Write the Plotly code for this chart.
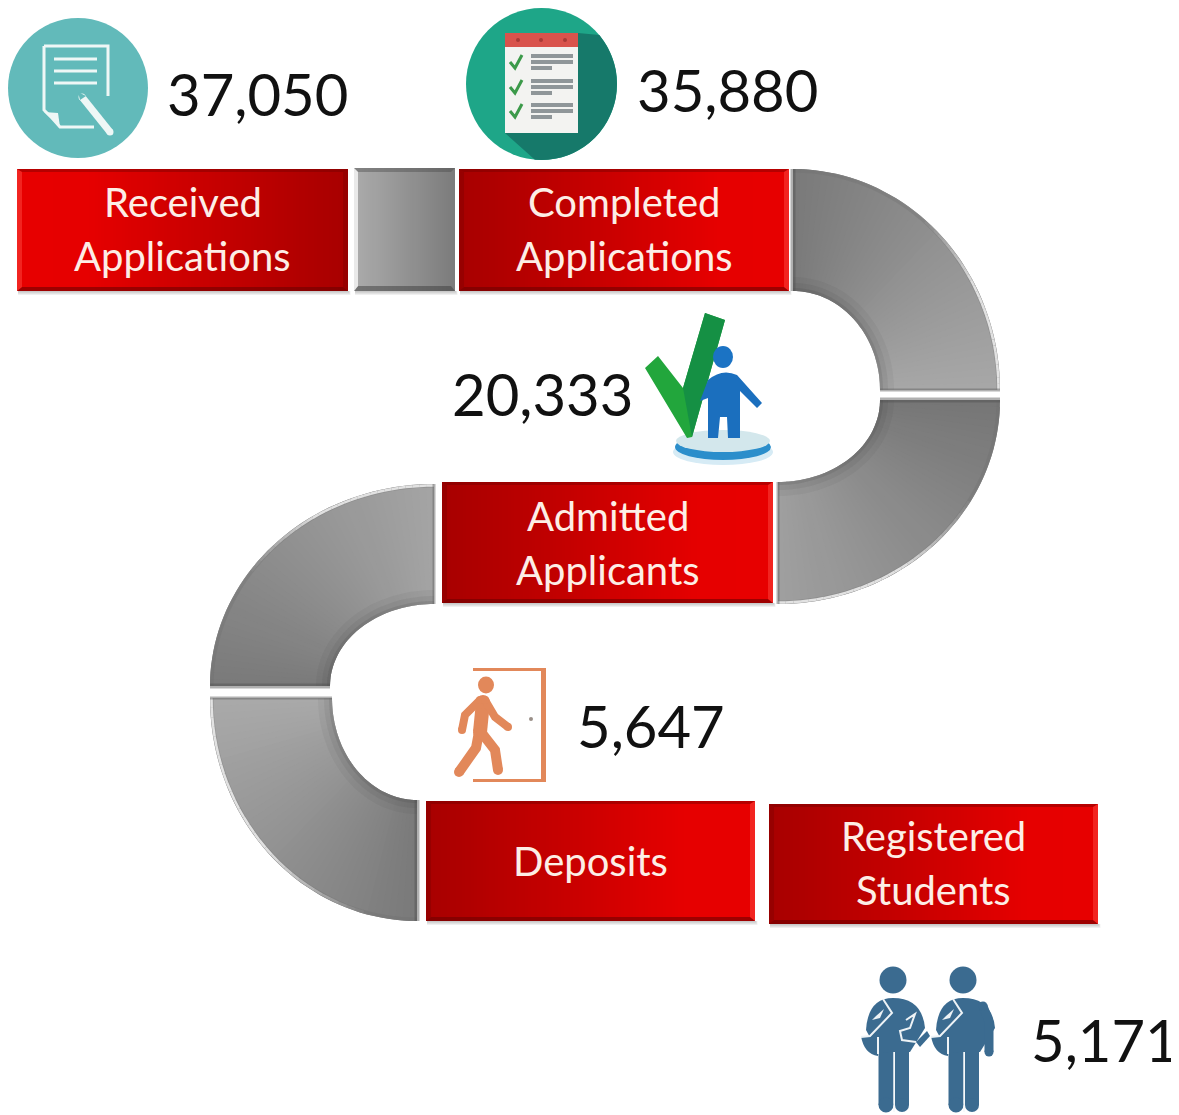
"""
Admissions funnel infographic, drawn with Plotly shapes on a pixel-sized axis.
"""

from __future__ import annotations

import math

import plotly.graph_objects as go

# data
STAGES = ["Received<br>Applications", "Completed<br>Applications", "Admitted<br>Applicants",
          "Deposits", "Registered<br>Students"]
COUNTS = ["37,050", "35,880", "20,333", "5,647", "5,171"]

# layout, in reference pixels
BAR_BOXES = [(17, 169, 348, 291), (459, 169, 789, 291), (442, 482, 773, 603),
             (426, 801, 755, 921), (769, 804, 1098, 924)]
BAR_BRIGHT_LEFT = [True, False, False, False, False]
LABEL_Y = [229, 229, 543, 861, 863]
LABEL_LINE_GAP = 54
COUNT_POS = [(168, 93), (638, 89), (453, 393), (578, 725), (1032, 1039)]

# cx, cy, outer rx/ry, inner rx/ry, angle from, angle to, grey from, grey to, bright rim range
ARCS = [
    (793, 390, 207, 221, 87, 99, -90, 0, 122, 168, (-50, 0)),
    (778, 400, 222, 204, 102, 82, 0, 90, 118, 160, (30, 90)),
    (434, 686, 224, 202, 104, 82, -90, -180, 165, 122, (-90, -145)),
    (417, 698, 207, 223, 85, 102, 180, 90, 170, 122, (180, 105)),
]

RED_STOPS = [(0.0, (168, 0, 0)), (0.12, (176, 0, 0)), (0.5, (206, 0, 0)), (0.78, (230, 0, 0)), (1.0, (232, 0, 0))]
LABEL_FONT = "Lato, Carlito, sans-serif"

# the page keeps an 8px body margin, so the plot area starts at reference pixel 8
PAGE_MARGIN = 8

shapes = []


def add_path(d, fill="rgba(0,0,0,0)", line=None, width=0):
    shapes.append(dict(type="path", path=d, fillcolor=fill, layer="below",
                       line=dict(color=line or "rgba(0,0,0,0)", width=width)))


def poly(points, fill="rgba(0,0,0,0)", line=None, width=0, close=True):
    d = "M " + " L ".join(f"{x:.1f},{y:.1f}" for x, y in points) + (" Z" if close else "")
    add_path(d, fill, line, width)


def ellipse(cx, cy, rx, ry, fill):
    shapes.append(dict(type="circle", x0=cx - rx, x1=cx + rx, y0=cy - ry, y1=cy + ry,
                       fillcolor=fill, layer="below", line=dict(width=0)))


def rect(x0, y0, x1, y1, fill):
    shapes.append(dict(type="rect", x0=x0, x1=x1, y0=y0, y1=y1, fillcolor=fill,
                       layer="below", line=dict(width=0)))


def limb(points, width, color):
    poly(points, line=color, width=width, close=False)
    for x, y in (points[0], points[-1]):
        ellipse(x, y, width / 2, width / 2, color)


def ramp(stops, t):
    for (t0, c0), (t1, c1) in zip(stops, stops[1:]):
        if t <= t1:
            k = (t - t0) / (t1 - t0)
            return tuple(int(a + (b - a) * k) for a, b in zip(c0, c1))
    return stops[-1][1]


def drop_shadow(x0, y0, x1, y1):
    for i in range(1, 5):
        rect(x0 + 1, y1, x1 + i * 0.6, y1 + i, "rgba(90,90,90,0.09)")


def red_bar(box, bright_left):
    x0, y0, x1, y1 = box
    drop_shadow(x0, y0, x1, y1)
    # each strip runs on to the bar's end and the next one paints over it, so no seams
    for xa in range(x0, x1, 3):
        t = (xa + 1.5 - x0) / (x1 - x0)
        r, g, b = ramp(RED_STOPS, 1 - t if bright_left else t)
        rect(xa, y0, x1, y1, f"rgb({r},{g},{b})")
    bev = 5
    poly([(x0, y0), (x1, y0), (x1 - bev, y0 + 3), (x0 + bev, y0 + 3)], "rgba(110,0,0,0.40)")
    poly([(x0, y1), (x1, y1), (x1 - bev, y1 - 4), (x0 + bev, y1 - 4)], "rgba(110,0,0,0.60)")
    light = "rgba(255,80,70,0.45)"
    dark = "rgba(120,0,0,0.35)"
    poly([(x0, y0), (x0 + bev, y0 + 3), (x0 + bev, y1 - 4), (x0, y1)], light if bright_left else dark)
    poly([(x1, y0), (x1 - bev, y0 + 3), (x1 - bev, y1 - 4), (x1, y1)], dark if bright_left else light)


def grey_connector(x0, y0, x1, y1):
    drop_shadow(x0, y0, x1, y1)
    for xa in range(x0, x1, 2):
        v = int(172 - (172 - 124) * (xa + 1 - x0) / (x1 - x0))
        rect(xa, y0, x1, y1, f"rgb({v},{v},{v})")
    poly([(x0, y0), (x1, y0), (x1 - 4, y0 + 4), (x0 + 4, y0 + 4)], "rgba(70,70,70,0.40)")
    poly([(x0, y1), (x1, y1), (x1 - 4, y1 - 5), (x0 + 4, y1 - 5)], "rgba(60,60,60,0.50)")
    poly([(x0, y0), (x0 + 4, y0 + 4), (x0 + 4, y1 - 5), (x0, y1)], "rgba(240,240,240,0.9)")


def arc_point(cx, cy, rx, ry, deg):
    a = math.radians(deg)
    return cx + rx * math.cos(a), cy + ry * math.sin(a)


def grey_arc(cx, cy, orx, ory, irx, iry, a0, a1, g0, g1, rim):
    n = 45
    step = (a1 - a0) / n
    for i in range(n):
        d0, d1, d2 = a0 + step * i, a0 + step * min(i + 1, n), a0 + step * min(i + 2, n)
        v = int(g0 + (g1 - g0) * (i + 0.5) / n)
        angles = [d0, d1, d2]
        poly([arc_point(cx, cy, orx, ory, d) for d in angles]
             + [arc_point(cx, cy, irx, iry, d) for d in reversed(angles)], f"rgb({v},{v},{v})")
    steps = [a0 + (a1 - a0) * i / 40 for i in range(41)]
    # soft dark inner edge
    for w, alpha in ((14, 0.06), (8, 0.08), (3, 0.12)):
        poly([arc_point(cx, cy, irx + w / 2, iry + w / 2, d) for d in steps],
             line=f"rgba(50,50,50,{alpha})", width=w, close=False)
    poly([arc_point(cx, cy, orx - 2, ory - 2, d) for d in steps],
         line="rgba(110,110,110,0.3)", width=3, close=False)
    # light rim that fades in along the outer edge
    r0, r1 = rim
    m = 30
    for i in range(m):
        alpha = 0.9 * min(1.0, (i + 1) / (m * 0.45))
        if r0 in (-90, 180):
            alpha = 0.9 * min(1.0, (m - i) / (m * 0.45))
        da, db = r0 + (r1 - r0) * i / m, r0 + (r1 - r0) * (i + 1) / m
        poly([arc_point(cx, cy, orx - 1.5, ory - 1.5, da), arc_point(cx, cy, orx - 1.5, ory - 1.5, db)],
             line=f"rgba(235,235,235,{alpha:.2f})", width=2.5, close=False)
    # darker and lighter ends of the band
    poly([arc_point(cx, cy, orx, ory, a0 if g0 < g1 else a1),
          arc_point(cx, cy, irx, iry, a0 if g0 < g1 else a1)],
         line="rgba(80,80,80,0.45)", width=5, close=False)
    poly([arc_point(cx, cy, orx, ory, a1 if g0 < g1 else a0),
          arc_point(cx, cy, irx, iry, a1 if g0 < g1 else a0)],
         line="rgba(100,100,100,0.5)", width=3, close=False)


def document_badge():
    ellipse(78, 88, 70, 70, "#62baba")
    white = "#eef7f6"
    poly([(44, 46), (108, 46), (108, 96)], line=white, width=3, close=False)
    poly([(44, 46), (44, 110), (52, 118), (60, 127), (94, 127)], line=white, width=3, close=False)
    poly([(44, 112), (58, 113), (60, 127)], white)
    for y in (59, 71, 83):
        rect(54, y - 1.5, 97, y + 1.5, white)
    limb([(82, 97), (110, 132)], 7, white)
    poly([(78, 92), (86, 96), (80, 100)], "#62baba")


def checklist_badge():
    ellipse(541.5, 84, 75.5, 76, "#1ea688")
    edge = [(541.5 + 75.5 * math.cos(math.radians(d)), 84 + 76 * math.sin(math.radians(d)))
            for d in range(-40, 96, 5)]
    poly([(578, 33)] + edge + [(505, 133), (578, 133)], "#16796a")
    rect(505, 33, 578, 133, "#f3f3f1")
    rect(505, 33, 578, 47, "#d9534c")
    for x in (518, 541, 565):
        ellipse(x, 40, 2, 2, "#a83a36")
    for y in (55, 80, 104):
        poly([(510, y + 7), (515, y + 13), (522, y)], line="#3c9a4a", width=3, close=False)
        rect(531, y - 1, 573, y + 3, "#8f9699")
        rect(531, y + 5, 573, y + 9, "#8f9699")
        rect(531, y + 11, 552, y + 15, "#8f9699")


def admitted_icon():
    ellipse(723, 452, 50, 13, "#d6ebf5")
    ellipse(723, 447, 48, 13, "#2b8ecb")
    ellipse(723, 441, 47, 11, "#d3e7ec")
    poly([(645, 368), (658, 356), (683, 388), (705, 313), (725, 320), (692, 437), (687, 438)], "#22a63c")
    poly([(683, 388), (705, 313), (725, 320), (692, 437)], "#159044")
    ellipse(723, 357, 10, 11, "#1b73c4")
    add_path("M 708,380 Q 722,368 737,375 L 762,403 L 757,408 L 740,391 L 740,438 L 728,438 "
             "L 727,417 L 720,417 L 718,438 L 708,438 L 708,398 L 700,401 Z", "#1b6fbe")


def door_icon():
    c = "#e2885a"
    rect(473, 668, 545, 671, c)
    rect(473, 779, 545, 782, c)
    rect(541, 668, 546, 782, c)
    ellipse(531, 719, 2, 2, "#9a8f88")
    ellipse(486, 685, 8, 8.5, c)
    limb([(483, 702), (480, 732)], 14, c)
    limb([(480, 700), (465, 715), (462, 730)], 8, c)
    limb([(485, 700), (495, 717), (508, 727)], 8, c)
    limb([(479, 732), (476, 748), (459, 772)], 10, c)
    limb([(481, 732), (495, 750), (498, 770)], 10, c)


def student(dx, book):
    c = "#3b6b90"
    ellipse(893 + dx, 980, 13.5, 13.5, c)
    limb([(886 + dx, 1045), (886 + dx, 1105)], 15, c)
    limb([(902 + dx, 1045), (902 + dx, 1105)], 14, c)
    add_path(f"M {866 + dx},1030 Q {868 + dx},998 {893 + dx},998 Q {922 + dx},998 {925 + dx},1028 "
             f"L {910 + dx},1052 L {878 + dx},1052 Z", c)
    add_path(f"M {861 + dx},1036 L {878 + dx},1036 L {878 + dx},1056 Q {864 + dx},1054 {861 + dx},1036 Z", c)
    white = "#eef3f6"
    poly([(883 + dx, 999), (892 + dx, 1013), (870 + dx, 1036), (861 + dx, 1037)], line=white, width=2, close=False)
    rect(877 + dx, 1037, 879 + dx, 1054, white)
    rect(893.5 + dx, 1052, 894.5 + dx, 1112, white)
    poly([(876 + dx, 1016), (884 + dx, 1009), (880 + dx, 1018), (872 + dx, 1020)], white)
    if book:
        poly([(906, 1020), (915, 1014), (910, 1028), (900, 1031), (902, 1040), (916, 1042)],
             line=white, width=2, close=False)
        poly([(916, 1042), (927, 1031), (930, 1036), (920, 1047)], c)
    else:
        limb([(983, 1006), (989, 1022), (989, 1052)], 9, c)


for box, bright in zip(BAR_BOXES, BAR_BRIGHT_LEFT):
    red_bar(box, bright)
grey_connector(354, 168, 455, 291)
for arc in ARCS:
    grey_arc(*arc)
document_badge()
checklist_badge()
admitted_icon()
door_icon()
student(0, True)
student(70, False)

annotations = []
for text, box, y in zip(STAGES, BAR_BOXES, LABEL_Y):
    lines = text.split("<br>")
    # one annotation per line: the reference's line gap is wider than Plotly's own
    for i, line in enumerate(lines):
        line_y = y + (i - (len(lines) - 1) / 2) * LABEL_LINE_GAP
        annotations.append(dict(x=(box[0] + box[2]) / 2, y=line_y, text=line, showarrow=False,
                                xanchor="center", yanchor="middle",
                                font=dict(family=LABEL_FONT, size=40, color="#fdeee6")))
for text, (x, y) in zip(COUNTS, COUNT_POS):
    annotations.append(dict(x=x, y=y, text=text, showarrow=False, xanchor="left", yanchor="middle",
                            xshift=-3, font=dict(family=LABEL_FONT, size=58, color="#111111")))

fig = go.Figure()
fig.update_layout(
    width=1179 - PAGE_MARGIN,
    height=1115 - PAGE_MARGIN,
    margin=dict(l=0, r=0, t=0, b=0),
    paper_bgcolor="white",
    plot_bgcolor="white",
    showlegend=False,
    shapes=shapes,
    annotations=annotations,
    xaxis=dict(range=[PAGE_MARGIN, 1179], visible=False, fixedrange=True),
    yaxis=dict(range=[1115, PAGE_MARGIN], visible=False, fixedrange=True),
)
fig.write_html("out.html")
